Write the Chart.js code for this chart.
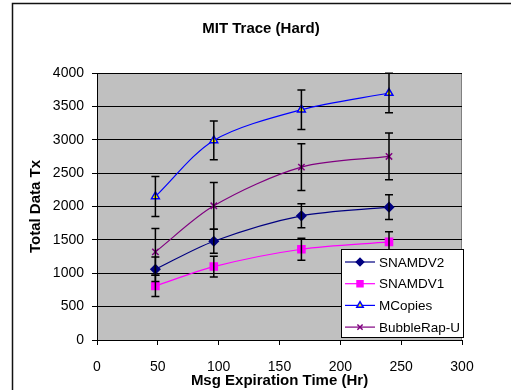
<!DOCTYPE html>
<html>
<head>
<meta charset="utf-8">
<script src="https://cdn.jsdelivr.net/npm/chart.js@4.4.0/dist/chart.umd.min.js"></script>
<style>
html,body{margin:0;padding:0;background:#fff;}
canvas{display:block;}
</style>
</head>
<body>
<canvas id="c" width="511" height="390"></canvas>
<script>
// data
const chartTitle='MIT Trace (Hard)';
const expiry=[48,96,168,240];
const xTicks=[0,50,100,150,200,250,300];
const yTicks=[0,500,1000,1500,2000,2500,3000,3500,4000];

const snamdv2=[1060,1480,1860,1990];
const snamdv2Err=[185,180,180,185];
const snamdv1=[810,1100,1360,1470];
const snamdv1Err=[160,155,165,150];
const mcopies=[2150,2990,3450,3700];
const mcopiesErr=[300,290,295,295];
const bubbleRap=[1320,2010,2590,2750];
const bubbleRapErr=[350,350,350,350];

const pts=v=>expiry.map((x,i)=>({x,y:v[i]}));
const FONT="'Liberation Sans', Arial, sans-serif";
Chart.defaults.font.family=FONT;
Chart.defaults.color='#000';

const series=[
  {label:'SNAMDV2',data:pts(snamdv2),err:snamdv2Err,borderColor:'#000080',backgroundColor:'#000080',pointStyle:'rectRot',pointRadius:4.5},
  {label:'SNAMDV1',data:pts(snamdv1),err:snamdv1Err,borderColor:'#ff00ff',backgroundColor:'#ff00ff',pointStyle:'rect',pointRadius:5},
  {label:'MCopies',data:pts(mcopies),err:mcopiesErr,borderColor:'#0000ff',backgroundColor:'#ffff00',pointStyle:'triangle',pointRadius:4.5},
  {label:'BubbleRap-U',data:pts(bubbleRap),err:bubbleRapErr,borderColor:'#800080',backgroundColor:'#800080',pointStyle:'crossRot',pointRadius:4.5},
].map(s=>Object.assign({borderWidth:1.2,pointBorderWidth:1.5,tension:0.3,fill:false},s));

// frame, plot background, error bars, legend, title
const decor={
  id:'decor',
  beforeDraw(ch){
    const c=ch.ctx,a=ch.chartArea;
    c.save();
    c.fillStyle='#c0c0c0';
    c.fillRect(a.left,a.top,a.right-a.left,a.bottom-a.top);
    c.strokeStyle='#808080';c.lineWidth=1;
    c.strokeRect(a.left+0.5,a.top+0.5,a.right-a.left-1,a.bottom-a.top);
    c.strokeStyle='#111';c.lineWidth=1.5;
    c.beginPath();c.moveTo(12.5,400);c.lineTo(12.5,3.5);c.lineTo(520,3.5);c.stroke();
    c.fillStyle='#000';c.font='bold 15px '+FONT;c.textAlign='center';c.textBaseline='middle';
    c.fillText(chartTitle,261,29);
    c.restore();
  },
  afterDatasetsDraw(ch){
    const c=ch.ctx,xs=ch.scales.x,ys=ch.scales.y;
    c.save();
    c.strokeStyle='#000';c.lineWidth=1.5;
    ch.data.datasets.forEach(ds=>{
      ds.data.forEach((p,i)=>{
        const x=xs.getPixelForValue(p.x);
        const t=ys.getPixelForValue(p.y+ds.err[i]);
        const b=ys.getPixelForValue(p.y-ds.err[i]);
        c.beginPath();
        c.moveTo(x,t);c.lineTo(x,b);
        c.moveTo(x-4,t);c.lineTo(x+4,t);
        c.moveTo(x-4,b);c.lineTo(x+4,b);
        c.stroke();
      });
    });
    c.restore();
  },
  afterDraw(ch){
    const c=ch.ctx;
    const bx=341,by=249,bw=122,bh=88;
    c.save();
    c.fillStyle='#fff';c.fillRect(bx,by,bw,bh);
    c.strokeStyle='#000';c.lineWidth=1;c.strokeRect(bx+0.5,by+0.5,bw,bh);
    c.font='13.5px '+FONT;c.textBaseline='middle';c.textAlign='left';
    ch.data.datasets.forEach((ds,i)=>{
      const y=262+i*21.7;
      c.strokeStyle=ds.borderColor;c.lineWidth=ds.borderWidth;
      c.beginPath();c.moveTo(345,y);c.lineTo(375,y);c.stroke();
      c.fillStyle=ds.backgroundColor;c.lineWidth=ds.pointBorderWidth;
      Chart.helpers.drawPoint(c,{pointStyle:ds.pointStyle,radius:ds.pointRadius-0.8,borderWidth:ds.pointBorderWidth},360,y);
      c.fillStyle='#000';
      c.fillText(ds.label,379,y+1);
    });
    c.restore();
  }
};

new Chart(document.getElementById('c'),{
  type:'line',
  data:{datasets:series},
  options:{
    responsive:false,animation:false,
    layout:{padding:{left:12,top:73,right:49,bottom:0}},
    plugins:{legend:{display:false},title:{display:false},tooltip:{enabled:false}},
    scales:{
      x:{type:'linear',min:0,max:300,
        afterBuildTicks:s=>{s.ticks=xTicks.map(v=>({value:v}));},
        afterFit:s=>{s.height=50;},
        grid:{drawOnChartArea:false,drawTicks:true,tickLength:5,color:'#000'},
        border:{display:true,color:'#000',width:1},
        ticks:{font:{size:14},padding:14,maxRotation:0,callback:v=>String(v)},
        title:{display:true,text:'Msg Expiration Time (Hr)',font:{size:15,weight:'bold'},padding:{top:0,bottom:0}}
      },
      y:{min:0,max:4000,
        afterBuildTicks:s=>{s.ticks=yTicks.map(v=>({value:v}));},
        afterFit:s=>{s.width=85;},
        grid:{color:'#000',lineWidth:1,drawTicks:true,tickLength:5},
        border:{display:true,color:'#000',width:1},
        ticks:{font:{size:14},padding:8,callback:v=>String(v)},
        title:{display:true,text:'Total Data Tx',font:{size:15,weight:'bold'},padding:{top:15,bottom:15}}
      }
    }
  },
  plugins:[decor]
});
</script>
</body>
</html>
